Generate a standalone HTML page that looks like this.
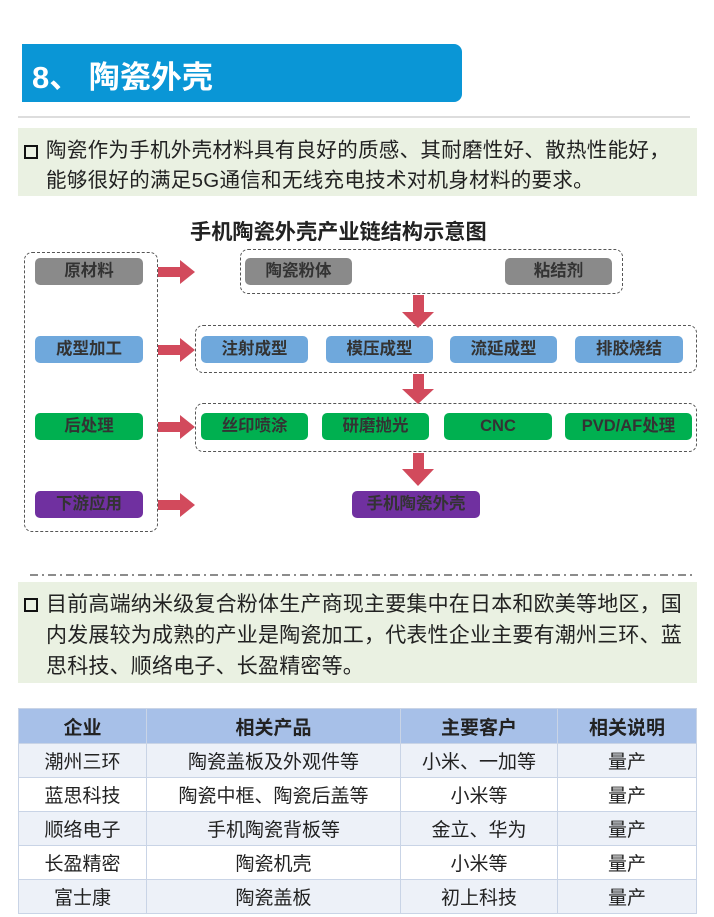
<!DOCTYPE html>
<html><head><meta charset="utf-8"><style>
*{margin:0;padding:0;box-sizing:border-box}
body{width:714px;height:917px;background:#fff;position:relative;overflow:hidden;font-family:"Liberation Sans","Noto Sans CJK SC",sans-serif;color:#222}
.a{position:absolute}
.box{position:absolute;height:27px;border-radius:5px;display:flex;align-items:center;justify-content:center;font-size:16.5px;font-weight:bold;color:#333;white-space:nowrap;line-height:1}
.g{background:#8a8a8a}.b{background:#6fa8dc}.gr{background:#00b050}.p{background:#7030a0}
.dash{position:absolute;border:1.5px dashed #555;border-radius:8px}
.txt{font-size:20.5px;color:#222;white-space:nowrap}
.cb{position:absolute;width:14px;height:14px;border:2.5px solid #111}
table{border-collapse:collapse;position:absolute;left:18px;top:708px;width:679px;font-size:19px}
td,th{border:1px solid #c9d4e6;text-align:center;height:34px}
th{background:#a7c0e8;font-weight:bold;height:35px}
tr.l td{background:#edf1f8}
</style></head><body>
<div class="a" style="left:22px;top:44px;width:440px;height:58px;background:#0a96d6;border-radius:0 8px 8px 0"></div>
<div class="a" style="left:32px;top:52px;color:#fff;font-size:31px;font-weight:bold">8、 陶瓷外壳</div>
<div class="a" style="left:18px;top:116px;width:672px;height:2px;background:#ddd"></div>
<div class="a" style="left:18px;top:128px;width:679px;height:68px;background:#eaf1e2"></div>
<div class="cb" style="left:24px;top:145px"></div>
<div class="a txt" style="left:46px;top:136px;line-height:30px;letter-spacing:0.3px">陶瓷作为手机外壳材料具有良好的质感、其耐磨性好、散热性能好，<br>能够很好的满足5G通信和无线充电技术对机身材料的要求。</div>
<div class="a" style="left:190px;top:215px;font-size:21.2px;font-weight:bold">手机陶瓷外壳产业链结构示意图</div>

<div class="dash" style="left:24px;top:252px;width:134px;height:280px"></div>
<div class="box g" style="left:35px;top:258px;width:108px">原材料</div>
<div class="box b" style="left:35px;top:336px;width:108px">成型加工</div>
<div class="box gr" style="left:35px;top:413px;width:108px">后处理</div>
<div class="box p" style="left:35px;top:491px;width:108px">下游应用</div>

<div class="dash" style="left:240px;top:249px;width:383px;height:45px"></div>
<div class="box g" style="left:245px;top:258px;width:107px">陶瓷粉体</div>
<div class="box g" style="left:505px;top:258px;width:107px">粘结剂</div>
<div class="dash" style="left:195px;top:325px;width:502px;height:48px"></div>
<div class="box b" style="left:201px;top:336px;width:107px">注射成型</div>
<div class="box b" style="left:326px;top:336px;width:107px">模压成型</div>
<div class="box b" style="left:450px;top:336px;width:107px">流延成型</div>
<div class="box b" style="left:575px;top:336px;width:108px">排胶烧结</div>
<div class="dash" style="left:195px;top:403px;width:502px;height:49px"></div>
<div class="box gr" style="left:201px;top:413px;width:107px">丝印喷涂</div>
<div class="box gr" style="left:322px;top:413px;width:107px">研磨抛光</div>
<div class="box gr" style="left:444px;top:413px;width:108px">CNC</div>
<div class="box gr" style="left:565px;top:413px;width:127px">PVD/AF处理</div>
<div class="box p" style="left:352px;top:491px;width:128px">手机陶瓷外壳</div>

<svg class="a" style="left:0;top:0" width="714" height="917">
<g fill="#d24a5c">
<polygon points="158,267 180,267 180,260 195,272 180,284 180,277 158,277"/>
<polygon points="158,345 180,345 180,338 195,350 180,362 180,355 158,355"/>
<polygon points="158,422 180,422 180,415 195,427 180,439 180,432 158,432"/>
<polygon points="158,500 180,500 180,493 195,505 180,517 180,510 158,510"/>
<polygon points="413,295 424,295 424,312 434,312 418,328 402,312 413,312"/>
<polygon points="413,374 424,374 424,389 434,389 418,404 402,389 413,389"/>
<polygon points="413,453 424,453 424,469 434,469 418,486 402,469 413,469"/>
</g>
<line x1="30" y1="575" x2="692" y2="575" stroke="#666" stroke-width="1.5" stroke-dasharray="8,4,2,4"/>
</svg>

<div class="a" style="left:18px;top:582px;width:679px;height:101px;background:#eaf1e2"></div>
<div class="cb" style="left:24px;top:598px"></div>
<div class="a txt" style="left:46px;top:589px;line-height:31px;font-size:21px;letter-spacing:0.2px">目前高端纳米级复合粉体生产商现主要集中在日本和欧美等地区，国<br>内发展较为成熟的产业是陶瓷加工，代表性企业主要有潮州三环、蓝<br>思科技、顺络电子、长盈精密等。</div>

<table>
<tr><th style="width:128px">企业</th><th style="width:254px">相关产品</th><th style="width:157px">主要客户</th><th>相关说明</th></tr>
<tr class="l"><td>潮州三环</td><td>陶瓷盖板及外观件等</td><td>小米、一加等</td><td>量产</td></tr>
<tr><td>蓝思科技</td><td>陶瓷中框、陶瓷后盖等</td><td>小米等</td><td>量产</td></tr>
<tr class="l"><td>顺络电子</td><td>手机陶瓷背板等</td><td>金立、华为</td><td>量产</td></tr>
<tr><td>长盈精密</td><td>陶瓷机壳</td><td>小米等</td><td>量产</td></tr>
<tr class="l"><td>富士康</td><td>陶瓷盖板</td><td>初上科技</td><td>量产</td></tr>
</table>
</body></html>
